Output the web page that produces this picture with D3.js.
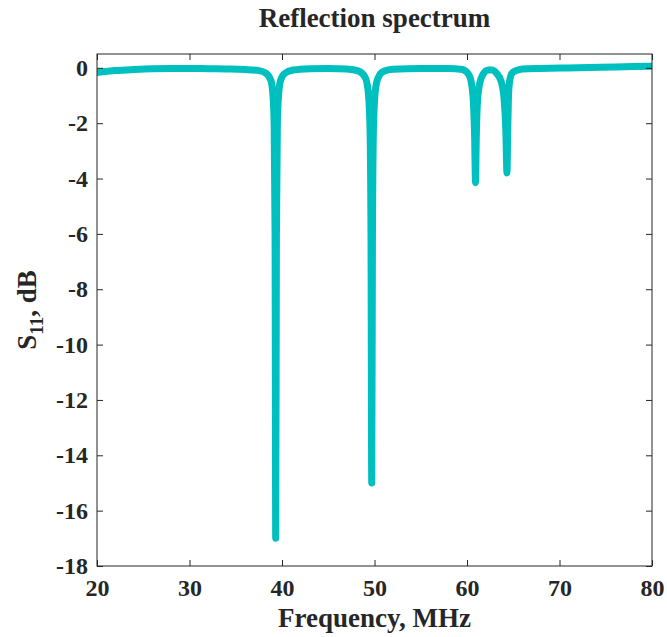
<!DOCTYPE html>
<html>
<head>
<meta charset="utf-8">
<script src="https://cdn.jsdelivr.net/npm/d3@7"></script>
<style>
    body { margin: 0; background: #fff; }
    text { font-family: 'Liberation Serif', 'Times New Roman', serif; font-weight: bold; fill: #262626; }
    .axis text { font-size: 24px; }
    .axis path, .axis line { stroke: #262626; }
</style>
</head>
<body>
<svg id="chart"></svg>
<script>
// frequency (MHz) and S11 (dB)
const freq = [20, 22, 24, 26, 28, 30, 32, 34, 36, 37.5, 38.3, 38.8, 39.0, 39.15, 39.25, 39.32, 39.4, 39.5, 39.65, 39.85, 40.3, 41.2, 43, 45, 47, 48.3, 49.0, 49.3, 49.5, 49.62, 49.7, 49.78, 49.9, 50.1, 50.4, 51.0, 52, 55, 58, 59.5, 60.2, 60.5, 60.7, 60.83, 60.92, 61.0, 61.12, 61.35, 61.7, 62.3, 62.7, 63.2, 63.7, 64.0, 64.2, 64.32, 64.4, 64.48, 64.6, 64.85, 65.3, 66, 68, 72, 76, 80]
const s11 = [-0.17, -0.1, -0.06, -0.03, -0.02, -0.02, -0.03, -0.04, -0.06, -0.1, -0.2, -0.45, -0.9, -2.0, -6.0, -17.0, -6.0, -2.0, -0.9, -0.45, -0.2, -0.08, -0.03, -0.02, -0.04, -0.12, -0.35, -0.8, -2.0, -6.0, -15.0, -6.0, -2.0, -0.8, -0.35, -0.12, -0.05, -0.02, -0.02, -0.06, -0.25, -0.6, -1.3, -2.6, -4.15, -2.6, -1.3, -0.6, -0.25, -0.08, -0.08, -0.2, -0.5, -1.1, -2.3, -3.8, -2.3, -1.1, -0.5, -0.2, -0.1, -0.04, -0.02, 0.0, 0.03, 0.06]

const xTicks = [20, 30, 40, 50, 60, 70, 80]
const yTicks = [0, -2, -4, -6, -8, -10, -12, -14, -16, -18]

const config = {
    containerWidth: 667,
    containerHeight: 637,
    margin: {top: 54, right: 15, bottom: 71, left: 97}
}

const width = config.containerWidth - config.margin.left - config.margin.right
const height = config.containerHeight - config.margin.top - config.margin.bottom

const data = freq.map((f, i) => ({f: f, v: s11[i]}))

const xScale = d3.scaleLinear()
    .domain([20, 80])
    .range([0, width])

const yScale = d3.scaleLinear()
    .domain([-18, 0.5])
    .range([height, 0])

const svg = d3.select('#chart')
    .attr('width', config.containerWidth)
    .attr('height', config.containerHeight)

const chart = svg.append('g')
    .attr('transform', `translate(${config.margin.left},${config.margin.top})`)

chart.append('clipPath')
    .attr('id', 'clip')
  .append('rect')
    .attr('width', width)
    .attr('height', height)

// curve
const line = d3.line()
    .x(d => xScale(d.f))
    .y(d => yScale(d.v))
    .curve(d3.curveMonotoneX)

chart.append('path')
    .datum(data)
    .attr('clip-path', 'url(#clip)')
    .attr('fill', 'none')
    .attr('stroke', 'rgb(0,191,191)')
    .attr('stroke-width', 7)
    .attr('stroke-linejoin', 'round')
    .attr('stroke-linecap', 'round')
    .attr('d', line)

// axes, ticks pointing inward on all four sides
const tickLen = 6

chart.append('g')
    .attr('class', 'axis x-axis')
    .attr('transform', `translate(0,${height})`)
    .call(d3.axisBottom(xScale).tickValues(xTicks).tickSize(-tickLen).tickPadding(13).tickSizeOuter(0))

chart.append('g')
    .attr('class', 'axis')
    .call(d3.axisTop(xScale).tickValues(xTicks).tickSize(-tickLen).tickFormat('').tickSizeOuter(0))

chart.append('g')
    .attr('class', 'axis y-axis')
    .call(d3.axisLeft(yScale).tickValues(yTicks).tickSize(-tickLen).tickPadding(9).tickSizeOuter(0)
        .tickFormat(d => d < 0 ? '-' + Math.abs(d) : d))

chart.append('g')
    .attr('class', 'axis')
    .attr('transform', `translate(${width},0)`)
    .call(d3.axisRight(yScale).tickValues(yTicks).tickSize(-tickLen).tickFormat('').tickSizeOuter(0))

chart.selectAll('.axis .domain').remove()

chart.append('rect')
    .attr('width', width)
    .attr('height', height)
    .attr('fill', 'none')
    .attr('stroke', '#262626')
    .attr('stroke-width', 1)

// titles
svg.append('text')
    .attr('x', config.margin.left + width / 2)
    .attr('y', 27)
    .attr('text-anchor', 'middle')
    .style('font-size', '27px')
    .text('Reflection spectrum')

svg.append('text')
    .attr('x', config.margin.left + width / 2)
    .attr('y', 627)
    .attr('text-anchor', 'middle')
    .style('font-size', '27px')
    .text('Frequency, MHz')

const yTitle = svg.append('text')
    .attr('transform', `translate(36,${config.margin.top + height / 2}) rotate(-90)`)
    .attr('text-anchor', 'middle')
    .style('font-size', '27px')

yTitle.append('tspan').text('S')
yTitle.append('tspan').attr('dy', 7).style('font-size', '19px').text('11')
yTitle.append('tspan').attr('dy', -7).text(', dB')
</script>
</body>
</html>
